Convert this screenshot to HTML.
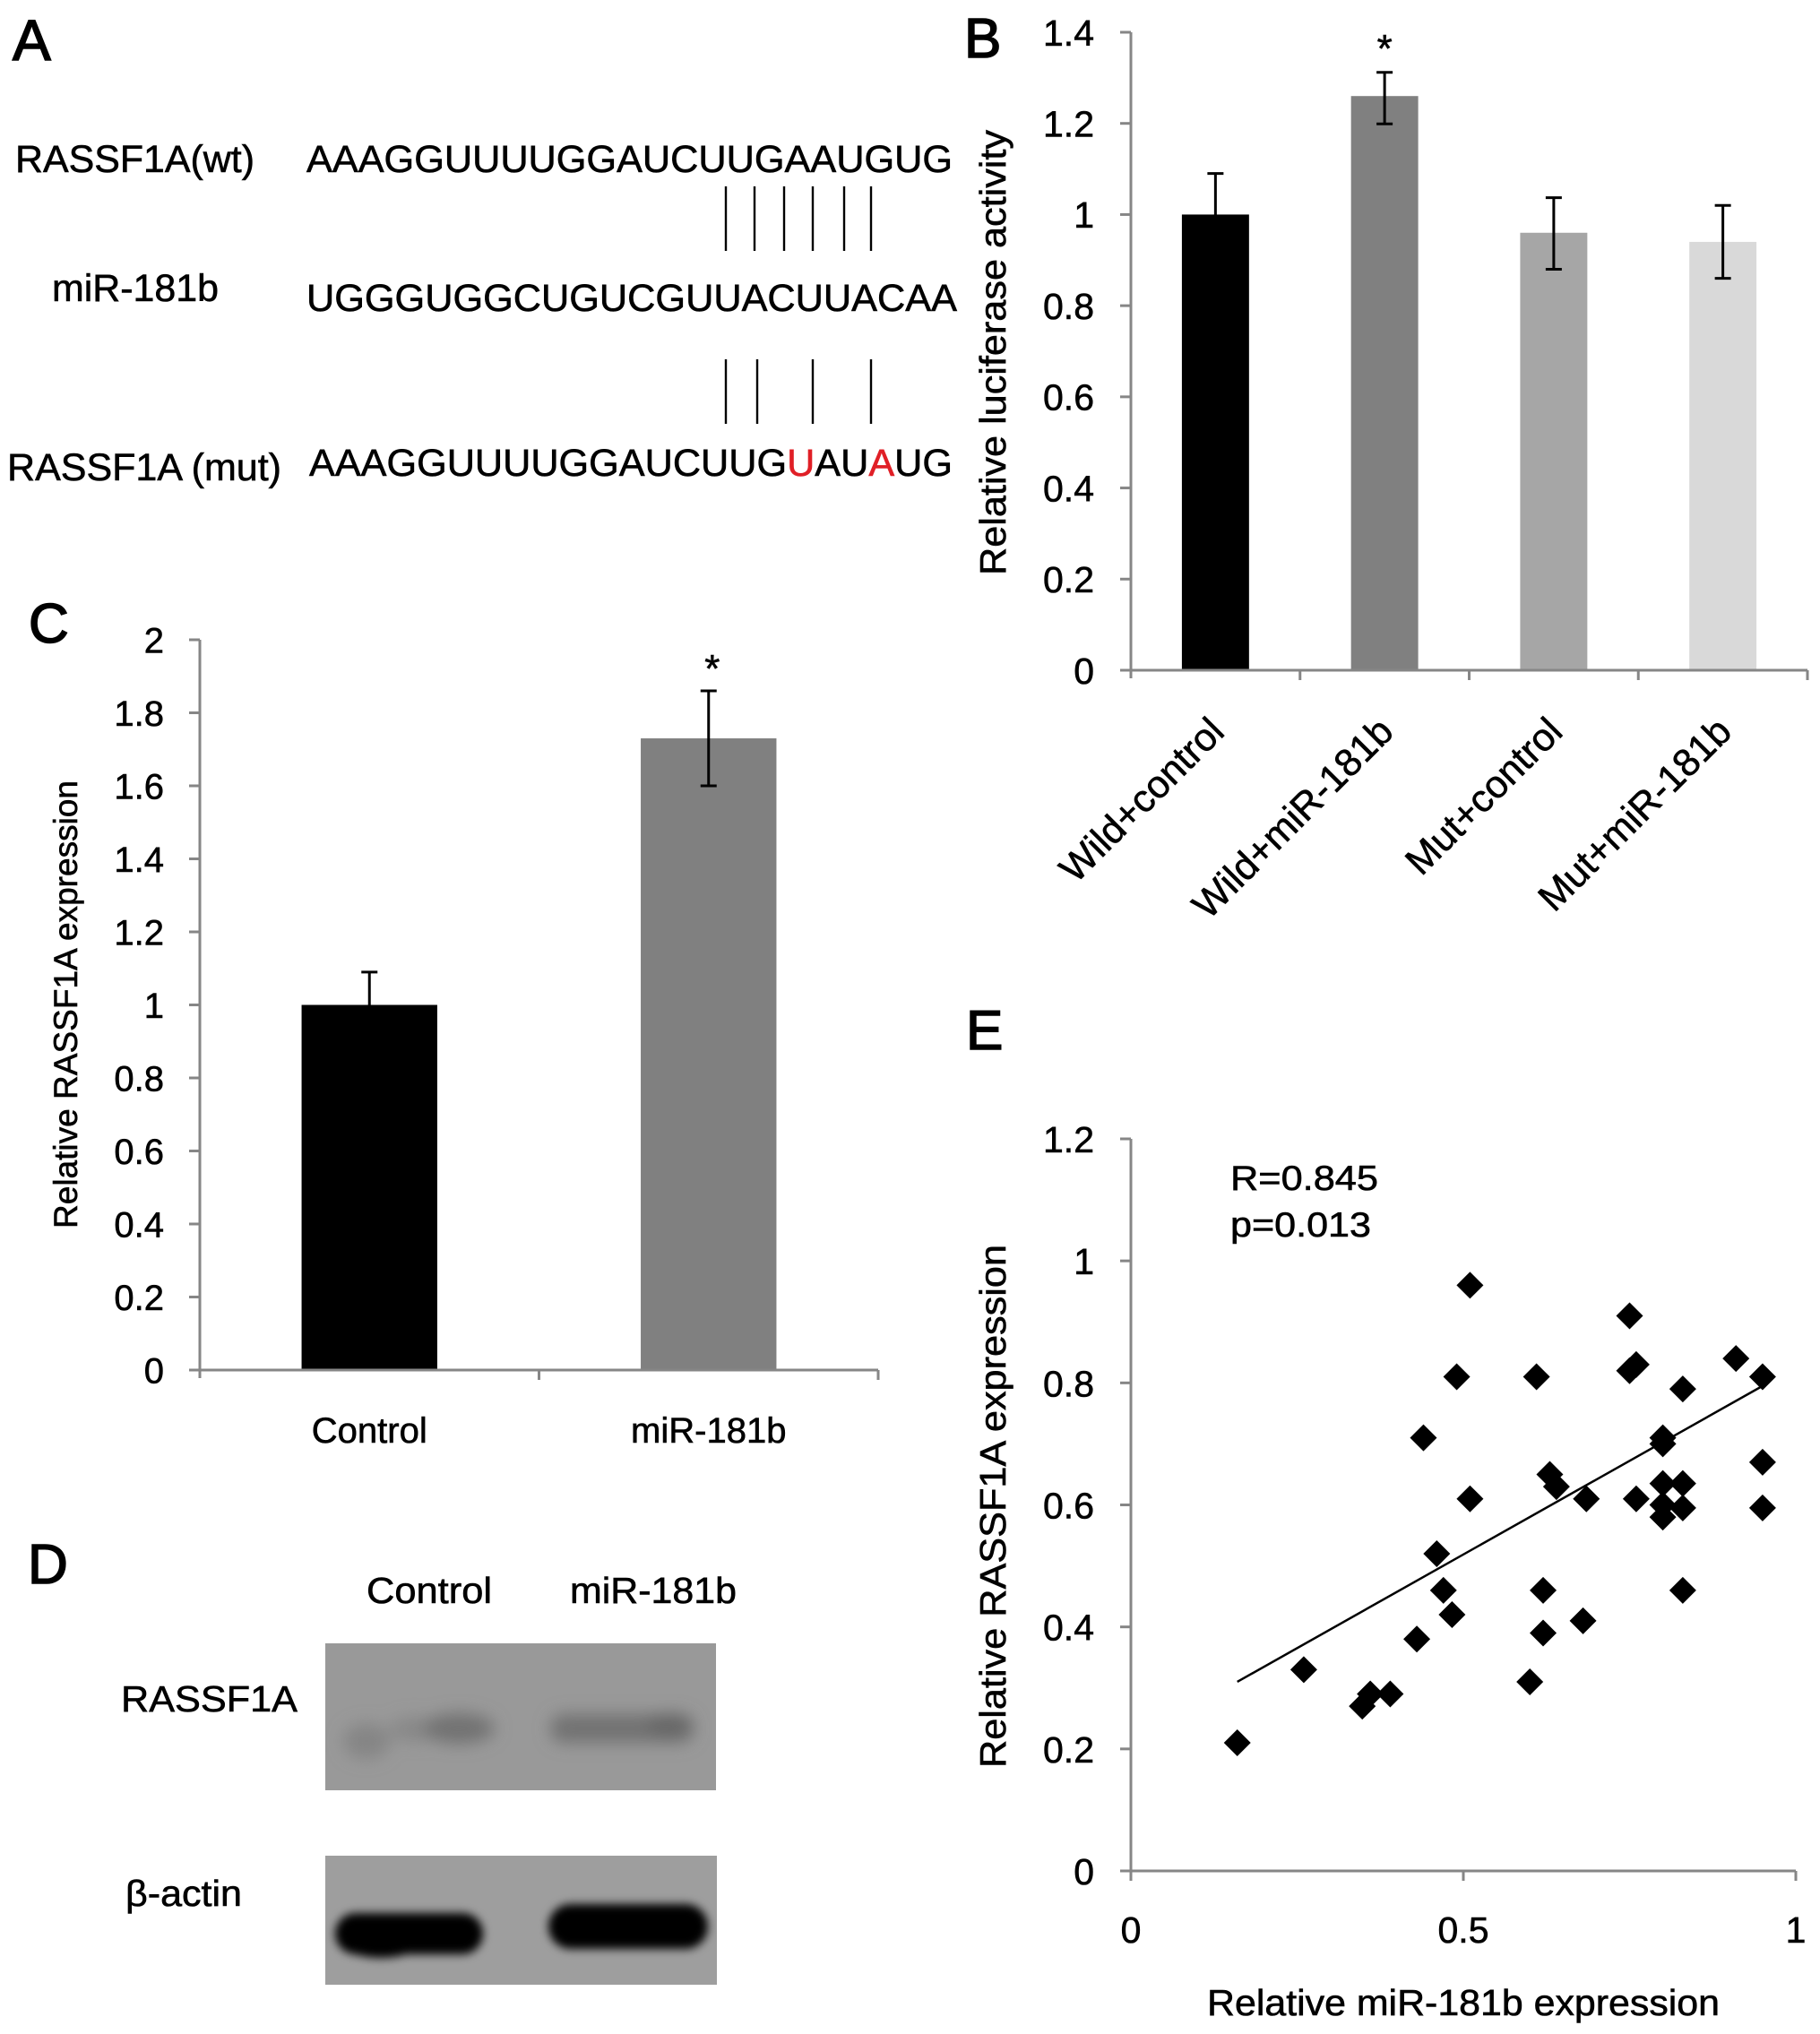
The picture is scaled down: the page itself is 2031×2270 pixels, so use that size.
<!DOCTYPE html>
<html lang="en">
<head>
<meta charset="utf-8">
<title>miR-181b and RASSF1A figure</title>
<style>
html,body{margin:0;padding:0;background:#fff;}
svg{display:block;}
text{font-family:"Liberation Sans",Arial,sans-serif;fill:#000;stroke:#000;stroke-width:0.6px;}
text.panel{stroke-width:1.6px;}
</style>
</head>
<body>
<svg id="figure" xmlns="http://www.w3.org/2000/svg" width="2031" height="2270" viewBox="0 0 2031 2270">
  <defs>
    <filter id="blurSoft" x="-60%" y="-120%" width="220%" height="340%"><feGaussianBlur stdDeviation="9"/></filter>
    <filter id="blurHard" x="-20%" y="-40%" width="140%" height="180%"><feGaussianBlur stdDeviation="5"/></filter>
    <clipPath id="clipBlot1"><rect x="363" y="1834" width="436" height="164"/></clipPath>
    <clipPath id="clipBlot2"><rect x="363" y="2071" width="437" height="144"/></clipPath>
  </defs>
  <rect x="0" y="0" width="2031" height="2270" fill="#ffffff"/>

  <g>
    <text class="panel" x="14" y="67" font-size="64">A</text>
    <text x="17" y="192" font-size="43" textLength="267" lengthAdjust="spacingAndGlyphs">RASSF1A(wt)</text>
    <text x="342" y="192" font-size="43" textLength="721" lengthAdjust="spacingAndGlyphs">AAAGGUUUUGGAUCUUGAAUGUG</text>
    <g stroke="#000" stroke-width="2.4">
      <line x1="810" y1="208" x2="810" y2="280"/><line x1="842" y1="208" x2="842" y2="280"/><line x1="875" y1="208" x2="875" y2="280"/><line x1="907" y1="208" x2="907" y2="280"/><line x1="942" y1="208" x2="942" y2="280"/><line x1="972" y1="208" x2="972" y2="280"/>
    </g>
    <text x="58" y="336" font-size="43" textLength="186" lengthAdjust="spacingAndGlyphs">miR-181b</text>
    <text x="342" y="347" font-size="43" textLength="726" lengthAdjust="spacingAndGlyphs">UGGGUGGCUGUCGUUACUUACAA</text>
    <g stroke="#000" stroke-width="2.4">
      <line x1="810" y1="401" x2="810" y2="473"/><line x1="845" y1="401" x2="845" y2="473"/><line x1="907" y1="401" x2="907" y2="473"/><line x1="972" y1="401" x2="972" y2="473"/>
    </g>
    <text x="8" y="536" font-size="43" textLength="306" lengthAdjust="spacingAndGlyphs">RASSF1A (mut)</text>
    <text x="345" y="531" font-size="43" textLength="718" lengthAdjust="spacingAndGlyphs">AAAGGUUUUGGAUCUUG<tspan style="fill:#e01f26;stroke:#e01f26">U</tspan>AU<tspan style="fill:#e01f26;stroke:#e01f26">A</tspan>UG</text>
  </g>

  <text class="panel" x="1076" y="64" font-size="62">B</text>
  <g id="chartB"></g>
  <text transform="translate(1122,642) rotate(-90)" font-size="41" textLength="497" lengthAdjust="spacingAndGlyphs">Relative luciferase activity</text>

  <text class="panel" x="32" y="717" font-size="62">C</text>
  <g id="chartC"></g>
  <text transform="translate(86,1371) rotate(-90)" font-size="37" textLength="500" lengthAdjust="spacingAndGlyphs">Relative RASSF1A expression</text>

  <g>
    <text class="panel" x="31" y="1767" font-size="62">D</text>
    <text x="409" y="1789" font-size="41" textLength="140" lengthAdjust="spacingAndGlyphs">Control</text>
    <text x="636" y="1789" font-size="41" textLength="186" lengthAdjust="spacingAndGlyphs">miR-181b</text>
    <text x="135" y="1910" font-size="41" textLength="197" lengthAdjust="spacingAndGlyphs">RASSF1A</text>
    <text x="140" y="2127" font-size="41" textLength="130" lengthAdjust="spacingAndGlyphs">β-actin</text>

    <g clip-path="url(#clipBlot1)">
      <rect x="363" y="1834" width="436" height="164" fill="#999999"/>
      <g filter="url(#blurSoft)">
        <ellipse cx="409" cy="1943" rx="26" ry="20" fill="#858585"/>
        <ellipse cx="462" cy="1930" rx="28" ry="14" fill="#888888"/>
        <ellipse cx="512" cy="1929" rx="40" ry="17" fill="#727272"/>
        <rect x="614" y="1913" width="160" height="32" rx="15" fill="#727272"/>
        <ellipse cx="748" cy="1925" rx="26" ry="13" fill="#666666"/>
      </g>
    </g>
    <g clip-path="url(#clipBlot2)">
      <rect x="363" y="2071" width="437" height="144" fill="#9e9e9e"/>
      <g filter="url(#blurHard)">
        <rect x="374" y="2135" width="165" height="46" rx="23" fill="#000"/>
        <ellipse cx="425" cy="2166" rx="46" ry="19" fill="#000"/>
        <rect x="612" y="2125" width="178" height="50" rx="25" fill="#000"/>
      </g>
    </g>
  </g>

  <text class="panel" x="1078" y="1171" font-size="62">E</text>
  <g id="chartE"></g>
  <text x="1373" y="1328" font-size="39" textLength="165" lengthAdjust="spacingAndGlyphs">R=0.845</text>
  <text x="1373" y="1380" font-size="39" textLength="157" lengthAdjust="spacingAndGlyphs">p=0.013</text>
  <text x="1347" y="2249" font-size="41" textLength="572" lengthAdjust="spacingAndGlyphs">Relative miR-181b expression</text>
  <text transform="translate(1122,1973) rotate(-90)" font-size="41" textLength="584" lengthAdjust="spacingAndGlyphs">Relative RASSF1A expression</text>
</svg>

<script>
// Panel B data
const bCategories = ['Wild+control', 'Wild+miR-181b', 'Mut+control', 'Mut+miR-181b'];
const bValues = [1, 1.26, 0.96, 0.94];
const bErrHigh = [1.09, 1.312, 1.037, 1.02];
const bErrLow = [0.91, 1.199, 0.88, 0.86];
const bTicks = [0, 0.2, 0.4, 0.6, 0.8, 1, 1.2, 1.4];
const bColors = ['#000000', '#808080', '#a6a6a6', '#d9d9d9'];
const bMarks = ['', '*', '', ''];

// Panel C data
const cCategories = ['Control', 'miR-181b'];
const cValues = [1, 1.73];
const cErrHigh = [1.09, 1.86];
const cErrLow = [0.91, 1.6];
const cTicks = [0, 0.2, 0.4, 0.6, 0.8, 1, 1.2, 1.4, 1.6, 1.8, 2];
const cColors = ['#000000', '#808080'];
const cMarks = ['', '*'];

// Panel E data
const eX = [0.16, 0.26, 0.348, 0.36, 0.39, 0.43, 0.44, 0.46, 0.47, 0.483, 0.49, 0.51, 0.51, 0.60, 0.61, 0.62, 0.62, 0.63, 0.64, 0.68, 0.685, 0.75, 0.75, 0.76, 0.76, 0.80, 0.80, 0.80, 0.80, 0.80, 0.83, 0.83, 0.83, 0.83, 0.91, 0.95, 0.95, 0.95];
const eY = [0.21, 0.33, 0.27, 0.29, 0.29, 0.38, 0.71, 0.52, 0.46, 0.42, 0.81, 0.96, 0.61, 0.31, 0.81, 0.46, 0.39, 0.65, 0.63, 0.41, 0.61, 0.91, 0.82, 0.83, 0.61, 0.71, 0.70, 0.635, 0.60, 0.58, 0.79, 0.635, 0.595, 0.46, 0.84, 0.81, 0.67, 0.595];
const eTrendX = [0.16, 0.95];
const eTrendY = [0.31, 0.795];
const eYTicks = [0, 0.2, 0.4, 0.6, 0.8, 1, 1.2];
const eXTicks = [0, 0.5, 1];

const SVG_NS = 'http://www.w3.org/2000/svg';
const AXIS_COLOR = '#868686';

function node(tag, parent, props) {
  const el = document.createElementNS(SVG_NS, tag);
  for (const k in props) el.setAttribute(k, props[k]);
  parent.appendChild(el);
  return el;
}

function drawBarChart(rootId, prefix, categories, values, errHigh, errLow, ticks, colors, marks, box) {
  const root = document.getElementById(rootId);
  const yMax = ticks[ticks.length - 1];
  const yScale = v => box.bottom - (v / yMax) * (box.bottom - box.top);
  const band = (box.right - box.left) / categories.length;
  const xCenter = i => box.left + band * (i + 0.5);

  values.forEach((v, i) => {
    const bar = node('rect', root, {
      x: xCenter(i) - band * box.barFrac / 2,
      y: yScale(v),
      width: band * box.barFrac,
      height: box.bottom - yScale(v),
      fill: colors[i]
    });
    
    
  });

  const yAxis = node('line', root, { x1: box.left, y1: box.top, x2: box.left, y2: box.bottom + 9, stroke: AXIS_COLOR, 'stroke-width': 3 });
  
  
  const xAxis = node('line', root, { x1: box.left - 12, y1: box.bottom, x2: box.right, y2: box.bottom, stroke: AXIS_COLOR, 'stroke-width': 3 });
  
  

  ticks.forEach(t => {
    const tick = node('line', root, { x1: box.left - 12, y1: yScale(t), x2: box.left, y2: yScale(t), stroke: AXIS_COLOR, 'stroke-width': 3 });
    
    
    const label = node('text', root, { x: box.labelRight, y: yScale(t) + box.tickFont * 0.36, 'text-anchor': 'end', 'font-size': box.tickFont });
    
    
    label.textContent = String(t);
  });

  categories.forEach((c, i) => {
    const tick = node('line', root, { x1: box.left + band * (i + 1), y1: box.bottom, x2: box.left + band * (i + 1), y2: box.bottom + 11, stroke: AXIS_COLOR, 'stroke-width': 3 });
    
    

    const cx = xCenter(i);
    const stem = node('line', root, { x1: cx, y1: yScale(errHigh[i]), x2: cx, y2: yScale(errLow[i]), stroke: '#000', 'stroke-width': 3 });
    
    
    const capTop = node('line', root, { x1: cx - 9, y1: yScale(errHigh[i]), x2: cx + 9, y2: yScale(errHigh[i]), stroke: '#000', 'stroke-width': 3 });
    
    
    const capBottom = node('line', root, { x1: cx - 9, y1: yScale(errLow[i]), x2: cx + 9, y2: yScale(errLow[i]), stroke: '#000', 'stroke-width': 3 });
    
    

    if (marks[i]) {
      const star = node('text', root, { x: cx + box.starShift, y: yScale(errHigh[i]) - box.starGap, 'text-anchor': 'middle', 'font-size': 44 });
      
      
      star.textContent = marks[i];
    }

    let label;
    if (box.rotated) {
      const ex = cx + 12;
      const ey = box.bottom + 71;
      label = node('text', root, { transform: 'translate(' + ex + ',' + ey + ') rotate(-45)', 'text-anchor': 'end', 'font-size': box.catFont });
    } else {
      label = node('text', root, { x: cx + box.catShift, y: box.catY, 'text-anchor': 'middle', 'font-size': box.catFont });
    }
    
    
    label.textContent = c;
  });
}

drawBarChart('chartB', 'b', bCategories, bValues, bErrHigh, bErrLow, bTicks, bColors, bMarks, {
  left: 1262, right: 2017, top: 36, bottom: 748, barFrac: 0.397, labelRight: 1221, tickFont: 41,
  rotated: true, catFont: 43, starGap: 12, starShift: 0
});

drawBarChart('chartC', 'c', cCategories, cValues, cErrHigh, cErrLow, cTicks, cColors, cMarks, {
  left: 223, right: 980, top: 714, bottom: 1529, barFrac: 0.4, labelRight: 183, tickFont: 40,
  rotated: false, catFont: 40, catY: 1610, catShift: 0, starGap: 10, starShift: 4
});

(function drawScatter() {
  const root = document.getElementById('chartE');
  const box = { left: 1262, right: 2004, top: 1271, bottom: 2088 };
  const xMax = eXTicks[eXTicks.length - 1];
  const yMax = eYTicks[eYTicks.length - 1];
  const xScale = v => box.left + (v / xMax) * (box.right - box.left);
  const yScale = v => box.bottom - (v / yMax) * (box.bottom - box.top);

  const yAxis = node('line', root, { x1: box.left, y1: box.top, x2: box.left, y2: box.bottom + 9, stroke: AXIS_COLOR, 'stroke-width': 3 });
  
  
  const xAxis = node('line', root, { x1: box.left - 12, y1: box.bottom, x2: box.right, y2: box.bottom, stroke: AXIS_COLOR, 'stroke-width': 3 });
  
  

  eYTicks.forEach(t => {
    const tick = node('line', root, { x1: box.left - 12, y1: yScale(t), x2: box.left, y2: yScale(t), stroke: AXIS_COLOR, 'stroke-width': 3 });
    
    
    const label = node('text', root, { x: 1221, y: yScale(t) + 15, 'text-anchor': 'end', 'font-size': 41 });
    
    
    label.textContent = String(t);
  });

  eXTicks.forEach(t => {
    const tick = node('line', root, { x1: xScale(t), y1: box.bottom, x2: xScale(t), y2: box.bottom + 11, stroke: AXIS_COLOR, 'stroke-width': 3 });
    
    
    const label = node('text', root, { x: xScale(t), y: 2168, 'text-anchor': 'middle', 'font-size': 41 });
    
    
    label.textContent = String(t);
  });

  const trend = node('line', root, { x1: xScale(eTrendX[0]), y1: yScale(eTrendY[0]), x2: xScale(eTrendX[1]), y2: yScale(eTrendY[1]), stroke: '#000', 'stroke-width': 2.5 });
  
  

  const r = 15;
  eX.forEach((v, i) => {
    const px = xScale(v);
    const py = yScale(eY[i]);
    const pt = node('polygon', root, { points: (px - r) + ',' + py + ' ' + px + ',' + (py - r) + ' ' + (px + r) + ',' + py + ' ' + px + ',' + (py + r), fill: '#000' });
    
    
  });
})();
</script>
</body>
</html>
